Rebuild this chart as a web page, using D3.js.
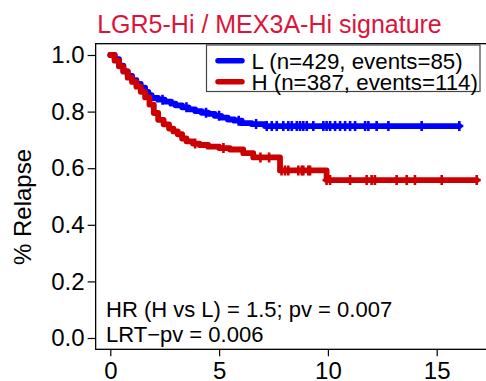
<!DOCTYPE html>
<html>
<head>
<meta charset="utf-8">
<script src="https://cdn.jsdelivr.net/npm/d3@7"></script>
<style>
  html, body { margin: 0; padding: 0; background: #fff; }
  svg { display: block; }
  text { font-family: "Liberation Sans", Arial, Helvetica, sans-serif; }
</style>
</head>
<body>
<svg id="km" width="486" height="381"></svg>
<script>
// Kaplan-Meier relapse-free curves, low (L) vs high (H) signature groups
const groups = ["L", "H"];
const legendLabels = ["L (n=429, events=85)", "H (n=387, events=114)"];
const colors = ["#0000ff", "#cc0000"];

// step times (years) and survival after each step
const timesL = [0, 0.2, 0.4, 0.6, 0.8, 1.0, 1.2, 1.4, 1.6, 1.75, 1.9, 2.2, 2.5, 2.8, 3.0, 3.3, 3.6, 3.9, 4.2, 4.5, 4.8, 5.1, 5.4, 5.7, 6.04, 6.5, 7.11];
const survL  = [1.0, 0.985, 0.962, 0.942, 0.926, 0.911, 0.898, 0.885, 0.870, 0.858, 0.848, 0.842, 0.835, 0.828, 0.822, 0.815, 0.808, 0.802, 0.796, 0.792, 0.785, 0.779, 0.772, 0.768, 0.759, 0.756, 0.749];
const censorL = [2.4, 3.5, 4.4, 5.0, 5.9, 6.7, 7.19, 7.42, 7.65, 7.95, 8.18, 8.34, 8.57, 8.72, 8.87, 9.03, 9.33, 9.79, 9.94, 10.1, 10.33, 10.56, 10.79, 11.02, 11.25, 11.71, 11.86, 12.24, 12.78, 14.31, 16.04];

const timesH = [0, 0.2, 0.4, 0.6, 0.8, 1.0, 1.2, 1.4, 1.6, 1.8, 2.0, 2.2, 2.45, 2.7, 2.9, 3.1, 3.3, 3.5, 3.8, 4.1, 4.5, 5.0, 5.5, 6.11, 6.57, 7.8, 9.94];
const survH  = [1.0, 0.980, 0.960, 0.942, 0.920, 0.905, 0.888, 0.870, 0.850, 0.825, 0.795, 0.771, 0.755, 0.740, 0.730, 0.720, 0.705, 0.695, 0.687, 0.682, 0.676, 0.671, 0.666, 0.653, 0.638, 0.592, 0.558];
const censorH = [3.9, 5.2, 6.9, 7.3, 7.87, 8.03, 8.18, 8.64, 8.8, 8.87, 9.1, 9.18, 9.94, 10.1, 11.02, 11.78, 12.01, 12.16, 13.16, 13.62, 14.0, 15.23, 16.84];

const xTicks = [0, 5, 10, 15];
const yTicks = [0, 0.2, 0.4, 0.6, 0.8, 1.0];
const titleText = "LGR5-Hi / MEX3A-Hi signature";
const yLabel = "% Relapse";
const statLines = ["HR (H vs L) = 1.5; pv = 0.007", "LRT\u2212pv = 0.006"];

const svg = d3.select("#km");
const x = d3.scaleLinear().domain([0, 15]).range([110.3, 436.7]);
const y = d3.scaleLinear().domain([0, 1]).range([338, 55]);

// plot region extends 4% past the data range
const xMax = d3.max([...censorL, ...censorH]);
const xPad = 0.04 * xMax;
const box = { x0: x(-xPad), x1: x(xMax + xPad), y0: y(1.04), y1: y(-0.04) };

function stepAt(times, surv, t) {
  const i = d3.bisectRight(times, t) - 1;
  return surv[Math.max(0, i)];
}

function stepPoints(times, surv, tEnd) {
  const pts = [[times[0], surv[0]]];
  for (let i = 1; i < times.length; i++) {
    pts.push([times[i], surv[i - 1]]);
    pts.push([times[i], surv[i]]);
  }
  pts.push([tEnd, surv[surv.length - 1]]);
  return pts;
}

const series = [
  { times: timesL, surv: survL, censor: censorL },
  { times: timesH, surv: survH, censor: censorH }
];

const line = d3.line().x(d => x(d[0])).y(d => y(d[1]));

const plot = svg.append("g");
series.forEach((s, k) => {
  const tEnd = d3.max(s.censor);
  plot.append("path")
    .attr("d", line(stepPoints(s.times, s.surv, tEnd)))
    .attr("fill", "none")
    .attr("stroke", colors[k])
    .attr("stroke-width", 5.8)
    .attr("stroke-linejoin", "round")
    .attr("stroke-linecap", "round");
  plot.selectAll(null)
    .data(s.censor)
    .enter().append("path")
    .attr("d", t => {
      const cx = x(t), cy = y(stepAt(s.times, s.surv, t));
      return `M${cx},${cy - 5}V${cy + 5}M${cx - 4},${cy}H${cx + 4}`;
    })
    .attr("stroke", colors[k])
    .attr("stroke-width", 2.6)
    .attr("fill", "none");
});

// frame
svg.append("rect")
  .attr("x", box.x0).attr("y", box.y0)
  .attr("width", box.x1 - box.x0).attr("height", box.y1 - box.y0)
  .attr("fill", "none").attr("stroke", "#000").attr("stroke-width", 1.3);

// axes
const xAxis = svg.append("g")
  .attr("transform", `translate(0,${box.y1})`)
  .call(d3.axisBottom(x).tickValues(xTicks).tickSize(7).tickPadding(3).tickFormat(d3.format("d")));
const yAxis = svg.append("g")
  .attr("transform", `translate(${box.x0},0)`)
  .call(d3.axisLeft(y).tickValues(yTicks).tickSize(8).tickPadding(3).tickFormat(d3.format(".1f")));
[xAxis, yAxis].forEach(a => {
  a.select(".domain").remove();
  a.selectAll(".tick line").attr("stroke", "#000").attr("stroke-width", 1.2);
  a.selectAll(".tick text")
    .attr("fill", "#000")
    .style("font-family", '"Liberation Sans", Arial, Helvetica, sans-serif')
    .style("font-size", "24px");
});
xAxis.selectAll(".tick text").attr("dy", "0.82em");

// title
svg.append("text")
  .attr("x", 269.5).attr("y", 33)
  .attr("text-anchor", "middle")
  .attr("fill", "#dc143c")
  .style("font-size", "25px")
  .text(titleText);

// y axis label
svg.append("text")
  .attr("transform", "translate(31,207) rotate(-90)")
  .attr("text-anchor", "middle")
  .attr("fill", "#000")
  .style("font-size", "24px")
  .text(yLabel);

// legend
const legend = svg.append("g");
legend.append("rect")
  .attr("x", 206.5).attr("y", 45)
  .attr("width", 273.5).attr("height", 46.5)
  .attr("fill", "#fff").attr("stroke", "#444").attr("stroke-width", 1.2);
groups.forEach((g, i) => {
  const cy = 60.7 + i * 21;
  legend.append("line")
    .attr("x1", 218).attr("x2", 242)
    .attr("y1", cy).attr("y2", cy)
    .attr("stroke", colors[i]).attr("stroke-width", 5.5)
    .attr("stroke-linecap", "round");
  legend.append("text")
    .attr("x", 251.5).attr("y", cy + 7.8)
    .attr("fill", "#000")
    .style("font-size", "22.3px")
    .text(legendLabels[i]);
});

// model statistics
statLines.forEach((s, i) => {
  svg.append("text")
    .attr("x", 106).attr("y", 317 + i * 25)
    .attr("fill", "#000")
    .style("font-size", "22px")
    .text(s);
});
</script>
</body>
</html>
